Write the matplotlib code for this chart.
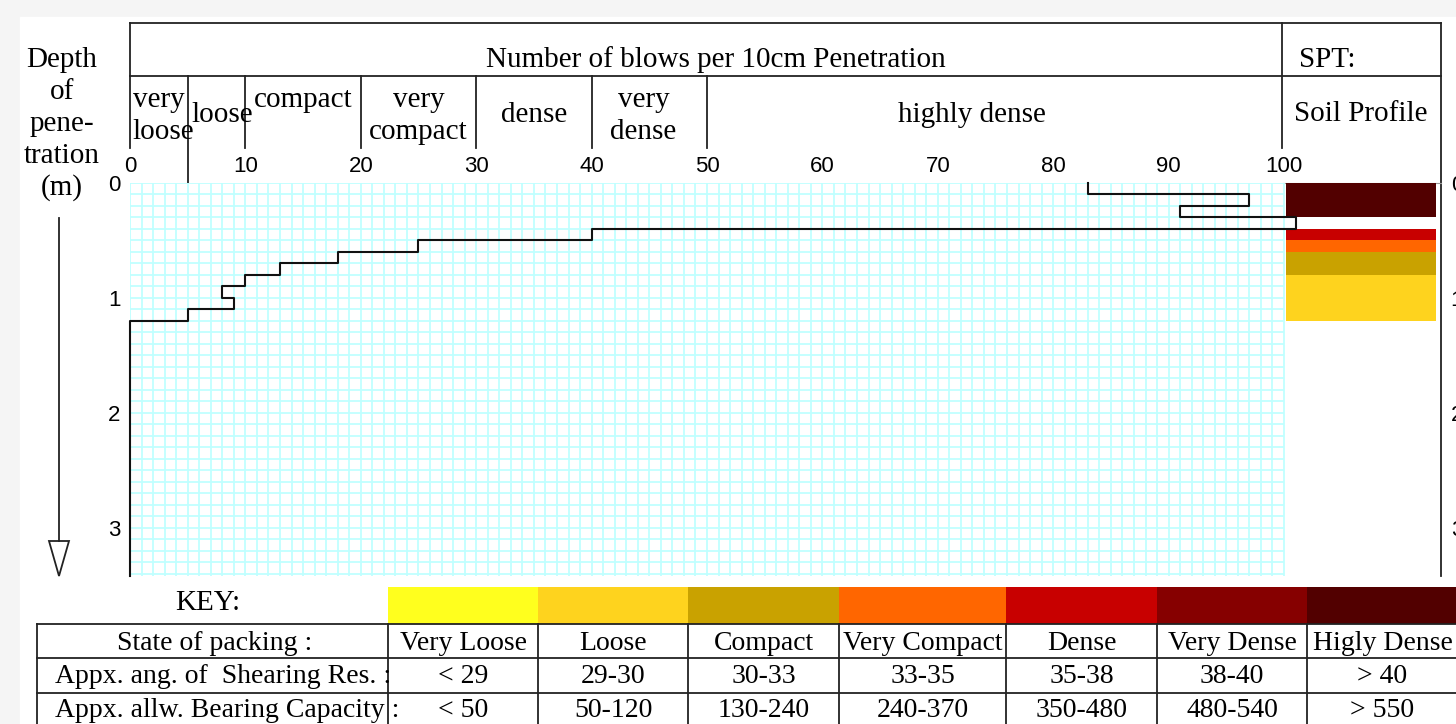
import numpy as np
import matplotlib
matplotlib.use("Agg")
import matplotlib.pyplot as plt
from matplotlib.patches import Polygon, Rectangle
from matplotlib.transforms import blended_transform_factory

# SPT record: blows per 10cm layer
layer_top = [0.0, 0.1, 0.2, 0.3, 0.4, 0.5, 0.6, 0.7, 0.8, 0.9, 1.0, 1.1, 1.2]
layer_bottom = [0.1, 0.2, 0.3, 0.4, 0.5, 0.6, 0.7, 0.8, 0.9, 1.0, 1.1, 1.2, 3.42]
blows = [83, 97, 91, 101, 40, 25, 18, 13, 10, 8, 9, 5, 0]

# soil profile column
profile_top = [0.0, 0.4, 0.5, 0.6, 0.8]
profile_bottom = [0.3, 0.5, 0.6, 0.8, 1.2]
profile_state = ["Higly Dense", "Dense", "Very Compact", "Compact", "Loose"]

# packing classes in the header (N ranges)
class_edges = [0, 5, 10, 20, 30, 40, 50, 100]
class_names = [("very", "loose"), ("loose",), ("compact", ""), ("very", "compact"),
               ("dense",), ("very", "dense"), ("highly dense",)]

# key table
states = ["Very Loose", "Loose", "Compact", "Very Compact", "Dense", "Very Dense", "Higly Dense"]
state_colors = ["#ffff1e", "#fed31e", "#c9a200", "#ff6600", "#c80000", "#860000", "#520000"]
shear_angle = ["< 29", "29-30", "30-33", "33-35", "35-38", "38-40", "> 40"]
bearing_cap = ["< 50", "50-120", "130-240", "240-370", "350-480", "480-540", "> 550"]
row_labels = ["State of packing :", "Appx. ang. of  Shearing Res. :", "Appx. allw. Bearing Capacity :"]

SERIF = "Liberation Serif"
plt.rcParams["font.family"] = "Liberation Sans"
LC = "#222222"
GRID_C = "#c0ffff"

W, H = 1456, 724
fig = plt.figure(figsize=(W / 100, H / 100), dpi=100)
fig.patch.set_facecolor("#f5f5f5")

# pixel canvas for the frame, header and key
canvas = fig.add_axes([0, 0, 1, 1])
canvas.set_xlim(0, W)
canvas.set_ylim(H, 0)
canvas.axis("off")
canvas.add_patch(Rectangle((20, 17), W, H, color="white", zorder=0))

# main plot
x0, x100 = 130, 1284
y_top, y_bot = 183, 576
x_right = 1441
px_per_n = (x100 - x0) / 100
ax = fig.add_axes([x0 / W, 1 - y_bot / H, (x_right - x0) / W, (y_bot - y_top) / H])
ax.patch.set_visible(False)
ax.set_xlim(0, (x_right - x0) / px_per_n)
ax.set_ylim(3.42, 0)
for s in ax.spines.values():
    s.set_visible(False)

ax.vlines(np.arange(0, 101), 0, 3.42, color=GRID_C, lw=1.3, zorder=0)
ax.hlines(np.round(np.arange(0, 35) * 0.1, 1), 0, 100, color=GRID_C, lw=1.3, zorder=0)

xs, ys = [], []
for t, b, n in zip(layer_top, layer_bottom, blows):
    xs += [n, n]
    ys += [t, b]
ax.plot(xs, ys, color="#111111", lw=1.5, clip_on=False, zorder=3)

cmap = dict(zip(states, state_colors))
ax.barh(profile_top, 13.0, left=100.2, height=np.subtract(profile_bottom, profile_top),
        align="edge", color=[cmap[s] for s in profile_state], zorder=2)

ax.xaxis.tick_top()
ax.set_xticks(range(0, 101, 10))
ax.set_yticks([0, 1, 2, 3])
ax.tick_params(axis="x", length=0, pad=4, labelsize=16)
ax.tick_params(axis="y", length=0, pad=7, labelsize=16, labelright=True)

# header
hx = blended_transform_factory(ax.transData, canvas.transData)
kw = dict(color=LC, lw=1.3)
canvas.plot([x0, x_right], [23, 23], **kw)
canvas.plot([x0, x_right], [76, 76], **kw)
canvas.plot([x_right, x_right], [23, y_bot], **kw)
canvas.plot([1282, 1282], [23, 148], **kw)
canvas.plot([x0, x0], [23, 148], **kw)
canvas.plot([1283, x_right], [y_top, y_top], color="#999999", lw=0.8)
for e in class_edges[1:-1]:
    canvas.plot([e, e], [76, y_top if e == 5 else 148], transform=hx, **kw)

canvas.text(716, 67, "Number of blows per 10cm Penetration", ha="center", va="baseline",
            family=SERIF, fontsize=21)
canvas.text(1299, 67, "SPT:", ha="left", va="baseline", family=SERIF, fontsize=21)
canvas.text(1361, 121, "Soil Profile", ha="center", va="baseline", family=SERIF, fontsize=21)

name_x = [0.25, 5.3, 15, 25, 35, 44.5, 73]
name_ha = ["left", "left", "center", "center", "center", "center", "center"]
for rows, nx, ha in zip(class_names, name_x, name_ha):
    ylines = [107, 139] if len(rows) == 2 else [122]
    for r, yl in zip(rows, ylines):
        canvas.text(nx, yl, r, transform=hx, ha=ha, va="baseline", family=SERIF, fontsize=21)

# depth label and arrow
for i, t in enumerate(["Depth", "of", "pene-", "tration", "(m)"]):
    canvas.text(62, 67 + 32 * i, t, ha="center", va="baseline", family=SERIF, fontsize=21)
canvas.plot([59, 59], [218, 541], **kw)
canvas.add_patch(Polygon([[49, 541], [69, 541], [59, 576]], closed=True, fill=False,
                         edgecolor=LC, lw=1.3))

# key
canvas.text(208, 610, "KEY:", ha="center", va="baseline", family=SERIF, fontsize=21)
col_edges = [388, 538, 688, 839, 1006, 1157, 1307, 1458]
canvas.bar(col_edges[:-1], 37, width=np.diff(col_edges), bottom=587, align="edge",
           color=state_colors, zorder=1)
row_lines = [624, 658, 693, 727]
for yl in row_lines[:-1]:
    canvas.plot([37, 1458], [yl, yl], **kw)
for xl in [37] + col_edges[:-1]:
    canvas.plot([xl, xl], [624, 727], **kw)

canvas.text(215, 650, row_labels[0], ha="center", va="baseline", family=SERIF, fontsize=20)
canvas.text(55, 683, row_labels[1], ha="left", va="baseline", family=SERIF, fontsize=20)
canvas.text(55, 717, row_labels[2], ha="left", va="baseline", family=SERIF, fontsize=20)
centers = [(a + b) / 2 for a, b in zip(col_edges[:-1], col_edges[1:])]
for row, yb in zip([states, shear_angle, bearing_cap], [650, 683, 717]):
    for cx, t in zip(centers, row):
        canvas.text(cx, yb, t, ha="center", va="baseline", family=SERIF, fontsize=20)

fig.savefig("out.png", dpi=100)
